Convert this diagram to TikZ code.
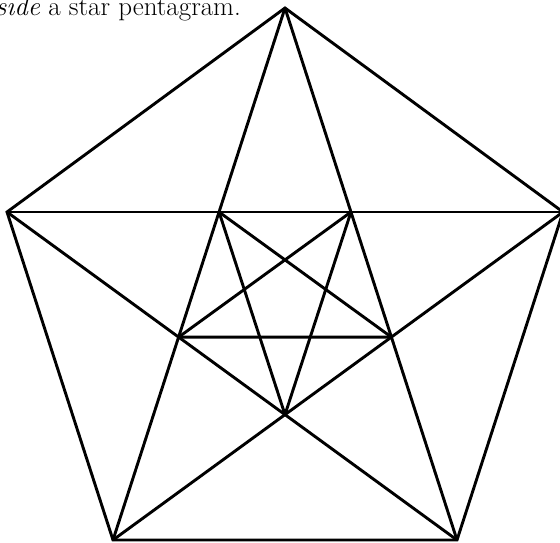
\documentclass[tikz,border=0pt]{standalone}
\usepackage{fontspec}
\begin{document}
\begin{tikzpicture}[x=1pt,y=-1pt,
  edge/.style={line width=2.9pt,line join=miter,line cap=butt},
  caption/.style={font=\fontsize{27}{30}\selectfont,inner sep=0pt,anchor=base east}]
\useasboundingbox (0,0) rectangle (560,542);
\coordinate (A) at (285,8);
\coordinate (B) at (7,212);
\coordinate (C) at (563,212);
\coordinate (D) at (113,540);
\coordinate (E) at (457,540);
% outer pentagon
\draw[edge] (A) -- (C) -- (E) -- (D) -- (B) -- cycle;
% outer pentagram
\draw[edge] (A) -- (D);
\draw[edge] (A) -- (E);
\draw[edge] (B) -- (C);
\draw[edge] (B) -- (E);
\draw[edge] (C) -- (D);
% inner pentagon vertices
\coordinate (P1) at (intersection of A--D and B--C);
\coordinate (P2) at (intersection of A--E and B--C);
\coordinate (P3) at (intersection of A--D and B--E);
\coordinate (P4) at (intersection of A--E and C--D);
\coordinate (P5) at (intersection of B--E and C--D);
% inner pentagram
\draw[edge] (P1) -- (P4);
\draw[edge] (P1) -- (P5);
\draw[edge] (P2) -- (P3);
\draw[edge] (P2) -- (P5);
\draw[edge] (P3) -- (P4);
\node[caption] (cap) at (241,15) {\textit{inside} a star pentagram.};
\end{tikzpicture}
\end{document}
